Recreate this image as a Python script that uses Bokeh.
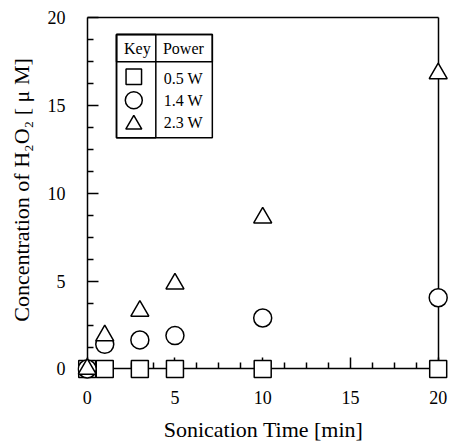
from bokeh.plotting import figure
from bokeh.models import Range1d, LinearAxis, FixedTicker, BoxAnnotation, ColumnDataSource
from bokeh.embed import file_html
from bokeh.resources import INLINE
from bokeh.core.properties import value

# ---- data ----
time_min = [0, 1, 3, 5, 10, 20]
h2o2_05w = [0, 0, 0, 0, 0, 0]
h2o2_14w = [0, 1.4, 1.65, 1.9, 2.9, 4.05]
h2o2_23w = [0, 1.9, 3.3, 4.85, 8.6, 16.8]
series_labels = ["0.5 W", "1.4 W", "2.3 W"]
series_markers = ["square", "circle", "triangle"]
legend_headers = ["Key", "Power"]
x_ticks = [0, 5, 10, 15, 20]
y_ticks = [0, 5, 10, 15, 20]
X_MIN, X_MAX = 0, 20
Y_MIN, Y_MAX = 0, 20

FONT = "Liberation Serif"
LW = 1.5

p = figure(width=449, height=445, output_backend="svg", toolbar_location=None,
           x_range=Range1d(-0.553, 20.644), y_range=Range1d(-0.597, 20.949),
           x_axis_type=None, y_axis_type=None,
           min_border_left=77, min_border_right=0, min_border_top=0, min_border_bottom=66)
p.outline_line_color = None
p.background_fill_color = "white"
p.border_fill_color = "white"


def minor_from(ticks, n=4):
    out = []
    for a, b in zip(ticks[:-1], ticks[1:]):
        out += [a + (b - a) * k / n for k in range(1, n)]
    return out


def frame_axis(loc, bounds, ticks, minor):
    """Axis line + inward ticks, pinned at a data location (labels not drawn)."""
    ax = LinearAxis(fixed_location=loc, bounds=bounds,
                    ticker=FixedTicker(ticks=ticks, minor_ticks=minor))
    ax.axis_line_color = "black"
    ax.axis_line_width = LW
    ax.major_tick_line_color = "black"
    ax.major_tick_line_width = LW
    ax.minor_tick_line_color = "black"
    ax.minor_tick_line_width = LW
    ax.major_tick_in = 11
    ax.major_tick_out = 0
    ax.minor_tick_in = 6
    ax.minor_tick_out = 0
    ax.major_label_text_color = None
    ax.major_label_standoff = 0
    ax.level = "underlay"
    return ax


def label_axis(ticks, title, standoff, title_standoff):
    """Tick labels + axis title only."""
    ax = LinearAxis(ticker=FixedTicker(ticks=ticks), axis_label=title)
    ax.axis_line_color = None
    ax.major_tick_line_color = None
    ax.minor_tick_line_color = None
    ax.major_tick_in = 0
    ax.major_tick_out = 0
    ax.minor_tick_in = 0
    ax.minor_tick_out = 0
    ax.major_label_text_font = FONT
    ax.major_label_text_font_size = "18px"
    ax.major_label_text_color = "black"
    ax.major_label_standoff = standoff
    ax.axis_label_text_font = FONT
    ax.axis_label_text_font_size = "22px"
    ax.axis_label_text_font_style = "normal"
    ax.axis_label_text_color = "black"
    ax.axis_label_standoff = title_standoff
    return ax


p.add_layout(frame_axis(Y_MIN, (X_MIN, X_MAX), x_ticks, minor_from(x_ticks)), "below")
p.add_layout(frame_axis(X_MIN, (Y_MIN, Y_MAX), y_ticks, minor_from(y_ticks)), "left")
p.add_layout(frame_axis(Y_MAX, (X_MIN, X_MAX), [], []), "above")
p.add_layout(frame_axis(X_MAX, (Y_MIN, Y_MAX), [], []), "right")

p.add_layout(label_axis(x_ticks, "Sonication Time [min]", 11, 10), "below")
p.add_layout(label_axis(y_ticks, "Concentration of H\u2082O\u2082 [ \u03bc M]", 12, 11), "left")

# ---- data marks ----
src = ColumnDataSource(dict(t=time_min, a=h2o2_05w, b=h2o2_14w, c=h2o2_23w))
sizes = [17, 18, 18]
for col, mk, sz in zip(["a", "b", "c"], series_markers, sizes):
    p.scatter("t", col, source=src, marker=mk, size=sz, line_color="black",
              line_width=LW, fill_color="white")

# ---- key table (legend) ----
LEG_LEFT, LEG_MID, LEG_RIGHT = 1.67, 3.91, 7.13
LEG_TOP, LEG_HEAD, LEG_BOTTOM = 19.02, 17.46, 13.14
for l, r, t, b in [(LEG_LEFT, LEG_RIGHT, LEG_TOP, LEG_BOTTOM),
                   (LEG_LEFT, LEG_RIGHT, LEG_TOP, LEG_HEAD),
                   (LEG_LEFT, LEG_MID, LEG_TOP, LEG_BOTTOM)]:
    p.add_layout(BoxAnnotation(left=l, right=r, top=t, bottom=b, fill_color=None,
                               line_color="black", line_alpha=1.0, line_width=LW))

key_x = 2.655
marker_y = [16.61, 15.28, 13.9]
label_x = 4.36
label_y = [16.49, 15.24, 14.0]
head_x = [2.86, 5.48]
head_y = [18.2, 18.2]
leg_sizes = [15.5, 17, 16]
for mk, my, sz in zip(series_markers, marker_y, leg_sizes):
    p.scatter([key_x], [my], marker=mk, size=sz, line_color="black",
              line_width=LW, fill_color="white")
p.text(x=[label_x] * 3, y=label_y, text=series_labels, text_font=value(FONT),
       text_font_size="16px", text_baseline="middle", text_align="left", text_color="black")
p.text(x=head_x, y=head_y, text=legend_headers, text_font=value(FONT),
       text_font_size="16px", text_baseline="middle", text_align="center", text_color="black")

open("out.html", "w").write(file_html(p, INLINE))
